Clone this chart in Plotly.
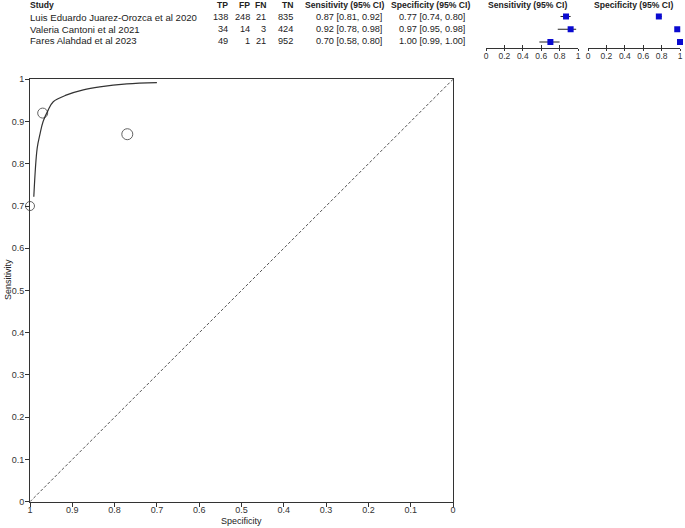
import plotly.graph_objects as go

W, H = 685, 528
FONT = "Liberation Sans, Arial, sans-serif"

# ---- data ----
studies = ["Luis Eduardo Juarez-Orozca et al 2020", "Valeria Cantoni et al 2021", "Fares Alahdad et al 2023"]
tp = [138, 34, 49]
fp = [248, 14, 1]
fn = [21, 3, 21]
tn = [835, 424, 952]
sens = [0.87, 0.92, 0.70]
sens_lo = [0.81, 0.78, 0.58]
sens_hi = [0.92, 0.98, 0.80]
spec = [0.77, 0.97, 1.00]
spec_lo = [0.74, 0.95, 0.99]
spec_hi = [0.80, 0.98, 1.00]
marker_sizes = [11, 10, 9]

sroc_spec = [0.991, 0.983, 0.976, 0.969, 0.957, 0.945, 0.913, 0.874, 0.835, 0.771, 0.70]
sroc_sens = [0.722, 0.837, 0.872, 0.900, 0.927, 0.947, 0.963, 0.975, 0.982, 0.989, 0.992]

main_ticks = [0, 0.1, 0.2, 0.3, 0.4, 0.5, 0.6, 0.7, 0.8, 0.9, 1]
main_ticktext = ["0", "0.1", "0.2", "0.3", "0.4", "0.5", "0.6", "0.7", "0.8", "0.9", "1"]
forest_ticks = [0, 0.2, 0.4, 0.6, 0.8, 1]
forest_ticktext = ["0", "0.2", "0.4", "0.6", "0.8", "1"]

def px_x(p):
    return p / W

def px_y(p):
    return 1 - p / H

fig = go.Figure()

# ---- main SROC plot ----
fig.add_trace(go.Scatter(x=[1, 0], y=[0, 1], mode="lines",
                         line=dict(color="#555", width=1, dash="3px,2px"),
                         xaxis="x", yaxis="y", hoverinfo="skip"))
fig.add_trace(go.Scatter(x=sroc_spec, y=sroc_sens, mode="lines",
                         line=dict(color="#333", width=1.2, shape="spline"),
                         xaxis="x", yaxis="y", hoverinfo="skip"))
fig.add_trace(go.Scatter(x=spec, y=sens, mode="markers",
                         marker=dict(size=marker_sizes, color="rgba(0,0,0,0)",
                                     line=dict(color="#222", width=1)),
                         cliponaxis=False, xaxis="x", yaxis="y"))

# ---- forest plots ----
rows = [1, 2, 3]
for i in range(3):
    fig.add_trace(go.Scatter(x=[sens_lo[i], sens_hi[i]], y=[rows[i], rows[i]], mode="lines",
                             line=dict(color="#222", width=1), xaxis="x2", yaxis="y2",
                             cliponaxis=False, hoverinfo="skip"))
    fig.add_trace(go.Scatter(x=[spec_lo[i], spec_hi[i]], y=[rows[i], rows[i]], mode="lines",
                             line=dict(color="#222", width=1), xaxis="x4", yaxis="y3",
                             cliponaxis=False, hoverinfo="skip"))
fig.add_trace(go.Scatter(x=sens, y=rows, mode="markers",
                         marker=dict(symbol="square", size=6, color="#0a0ad0"),
                         cliponaxis=False, xaxis="x2", yaxis="y2"))
fig.add_trace(go.Scatter(x=spec, y=rows, mode="markers",
                         marker=dict(symbol="square", size=6, color="#0a0ad0"),
                         cliponaxis=False, xaxis="x4", yaxis="y3"))
# invisible traces so the overlay axes render
fig.add_trace(go.Scatter(x=[0.5], y=[2], mode="markers", marker=dict(opacity=0),
                         xaxis="x3", yaxis="y2", hoverinfo="skip"))
fig.add_trace(go.Scatter(x=[0.5], y=[2], mode="markers", marker=dict(opacity=0),
                         xaxis="x5", yaxis="y3", hoverinfo="skip"))

main_x_dom = [px_x(30), px_x(453)]
main_y_dom = [px_y(501.7), px_y(79.3)]
f_y_dom = [px_y(47.5), px_y(10.1)]
f1_dom = [px_x(486), px_x(578)]
f2_dom = [px_x(588), px_x(680)]

tickfont = dict(family=FONT, size=9, color="#333")
ftickfont = dict(family=FONT, size=8.5, color="#333")

forest_ax = dict(range=[0, 1], showline=True, linecolor="#333", linewidth=1,
                 ticks="outside", ticklen=2.5, tickcolor="#333", tickvals=forest_ticks,
                 ticktext=forest_ticktext, showgrid=False, zeroline=False,
                 ticklabelstandoff=-2,
                 tickfont=ftickfont, fixedrange=True, automargin=False)
forest_ax_in = dict(range=[0, 1], showline=False, ticks="inside", ticklen=2.5,
                    tickcolor="#333", tickvals=forest_ticks, showticklabels=False,
                    showgrid=False, zeroline=False, fixedrange=True, automargin=False)
forest_y = dict(range=[3.43, 0.5], visible=False, domain=f_y_dom, fixedrange=True)

fig.update_layout(
    width=W, height=H,
    margin=dict(l=0, r=0, t=0, b=0),
    paper_bgcolor="white", plot_bgcolor="white",
    showlegend=False,
    font=dict(family=FONT, size=9, color="#222"),
    xaxis=dict(domain=main_x_dom, range=[1, 0], anchor="y",
               showline=True, mirror=True, linecolor="#333", linewidth=1,
               ticks="outside", ticklen=4, tickcolor="#333",
               tickvals=main_ticks, ticktext=main_ticktext, automargin=False,
               ticklabelstandoff=-5,
               showgrid=False, zeroline=False, tickfont=tickfont),
    yaxis=dict(domain=main_y_dom, range=[0, 1], anchor="x",
               showline=True, mirror=True, linecolor="#333", linewidth=1,
               ticks="outside", ticklen=4, tickcolor="#333",
               tickvals=main_ticks, ticktext=main_ticktext, automargin=False,
               ticklabelstandoff=-1,
               showgrid=False, zeroline=False, tickfont=tickfont),
    xaxis2=dict(domain=f1_dom, anchor="y2", **forest_ax),
    xaxis3=dict(domain=f1_dom, anchor="y2", overlaying="x2", **forest_ax_in),
    xaxis4=dict(domain=f2_dom, anchor="y3", **forest_ax),
    xaxis5=dict(domain=f2_dom, anchor="y3", overlaying="x4", **forest_ax_in),
    yaxis2=dict(anchor="x2", **forest_y),
    yaxis3=dict(anchor="x4", **forest_y),
)

# ---- table text ----
ann = []
def add_text(x, y, text, anchor="left", bold=False, size=9):
    ann.append(dict(x=px_x(x), y=px_y(y), xref="paper", yref="paper", text=("<b>%s</b>" % text) if bold else text,
                    showarrow=False, xanchor=anchor, yanchor="middle",
                    font=dict(family=FONT, size=size, color="#222")))

hy = 5.5
row_y = [17.3, 29.3, 40.9]
HS = 8.6
add_text(28, hy, "Study", "left", True, HS)
add_text(230, hy, "TP", "right", True, HS)
add_text(252, hy, "FP", "right", True, HS)
add_text(268, hy, "FN", "right", True, HS)
add_text(295, hy, "TN", "right", True, HS)
add_text(303, hy, "Sensitivity (95% CI)", "left", True, HS)
add_text(389, hy, "Specificity (95% CI)", "left", True, HS)
add_text(527, hy, "Sensitivity (95% CI)", "center", True, HS)
add_text(633.5, hy, "Specificity (95% CI)", "center", True, HS)

for i in range(3):
    y = row_y[i]
    add_text(28, y, studies[i], "left", size=9.6)
    add_text(230, y, str(tp[i]), "right", size=9.2)
    add_text(252, y, str(fp[i]), "right", size=9.2)
    add_text(268, y, str(fn[i]), "right", size=9.2)
    add_text(295, y, str(tn[i]), "right", size=9.2)
    add_text(384, y, "%.2f [%.2f, %.2f]" % (sens[i], sens_lo[i], sens_hi[i]), "right", size=9.2)
    add_text(467, y, "%.2f [%.2f, %.2f]" % (spec[i], spec_lo[i], spec_hi[i]), "right", size=9.2)

# axis titles
ann.append(dict(x=px_x(241.5), y=px_y(521), xref="paper", yref="paper", text="Specificity",
                showarrow=False, xanchor="center", yanchor="middle",
                font=dict(family=FONT, size=9, color="#222")))
ann.append(dict(x=px_x(8), y=px_y(280), xref="paper", yref="paper", text="Sensitivity",
                showarrow=False, xanchor="center", yanchor="middle", textangle=-90,
                font=dict(family=FONT, size=9, color="#222")))

fig.update_layout(annotations=ann)
fig.write_html("out.html", config={"displayModeBar": False},
               post_script="document.body.style.margin='0px';document.body.style.padding='0px';")
